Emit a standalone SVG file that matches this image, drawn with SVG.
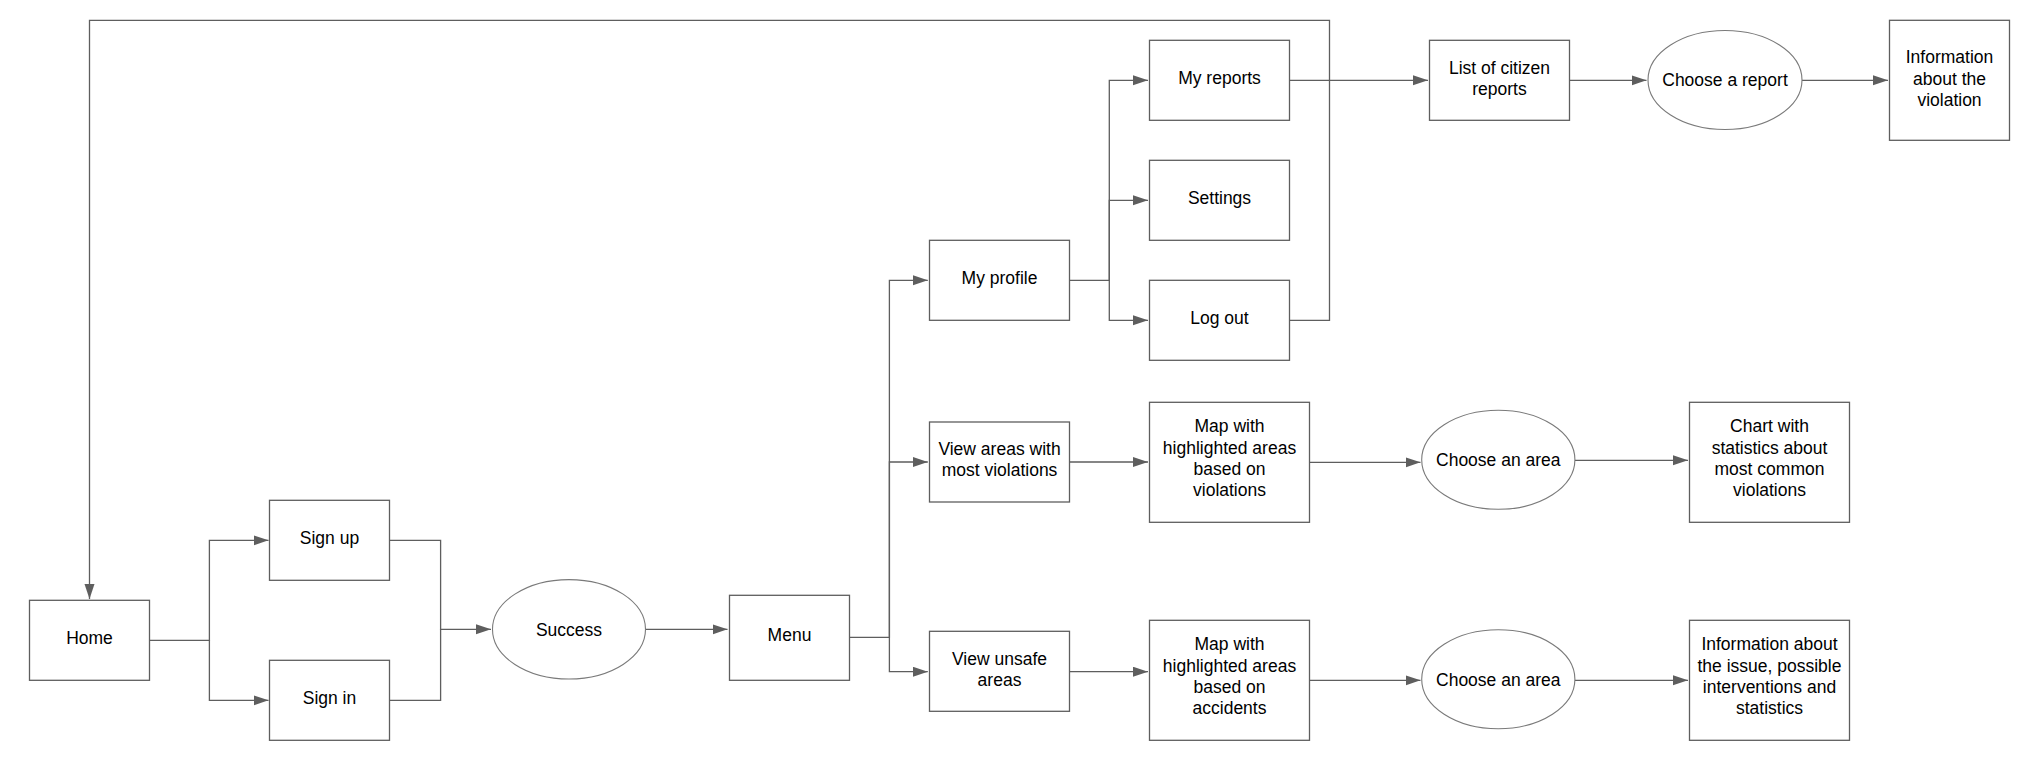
<svg xmlns="http://www.w3.org/2000/svg" width="2039" height="769" viewBox="0 0 2039 769">
  <style>
    .box { fill: #ffffff; stroke: #5e5e5e; stroke-width: 1.3; }
    .oval { fill: #ffffff; stroke: #7a7a7a; stroke-width: 1.1; }
    .lbl { font-family: "Liberation Sans", Arial, sans-serif; font-size: 17.5px; fill: #000000; text-anchor: middle; }
    .wire { fill: none; stroke: #5e5e5e; stroke-width: 1.3; }
    .arr { marker-end: url(#head); }
  </style>
  <defs>
    <marker id="head" markerUnits="userSpaceOnUse" markerWidth="16" markerHeight="11" refX="15" refY="5" orient="auto">
      <path d="M0,0 L15,5 L0,10 Z" fill="#5e5e5e"/>
    </marker>
  </defs>
  <rect width="2039" height="769" fill="#ffffff"/>

  <!-- connectors -->
  <g id="connectors">
    <path class="wire arr" d="M149.5,640.3 H209.4 V540.3 H268.5"/>
    <path class="wire arr" d="M209.4,640.3 V700.3 H268.5"/>
    <path class="wire arr" d="M389.5,540.3 H440.6 V629.3 H491"/>
    <path class="wire" d="M389.5,700.3 H440.6 V629.3"/>
    <path class="wire arr" d="M645.5,629.3 H727.5"/>
    <path class="wire arr" d="M849.5,637.3 H889.4 V280.3 H927.8"/>
    <path class="wire arr" d="M889.4,637.3 V462 H927.8"/>
    <path class="wire arr" d="M889.4,637.3 V671.7 H927.8"/>
    <path class="wire arr" d="M1069.5,462 H1148"/>
    <path class="wire arr" d="M1309.5,462.3 H1420.5"/>
    <path class="wire arr" d="M1575,460.3 H1688"/>
    <path class="wire arr" d="M1069.5,671.7 H1148"/>
    <path class="wire arr" d="M1309.5,680.3 H1420.5"/>
    <path class="wire arr" d="M1575,680.3 H1688"/>
    <path class="wire arr" d="M1069.5,280.3 H1109.3 V80.3 H1148"/>
    <path class="wire arr" d="M1109.3,280.3 V200.3 H1148"/>
    <path class="wire arr" d="M1109.3,280.3 V320.3 H1148"/>
    <path class="wire arr" d="M1289.5,320.3 H1329.5 V20.3 H89.5 V599"/>
    <path class="wire arr" d="M1289.5,80.3 H1428"/>
    <path class="wire arr" d="M1569.5,80.3 H1646.5"/>
    <path class="wire arr" d="M1802,80.3 H1888"/>
  </g>

  <g id="home">
    <rect class="box" x="29.5" y="600.3" width="120" height="80"/>
    <text class="lbl" x="89.5" y="643.6">Home</text>
  </g>
  <g id="sign-up">
    <rect class="box" x="269.5" y="500.3" width="120" height="80"/>
    <text class="lbl" x="329.5" y="543.6">Sign up</text>
  </g>
  <g id="sign-in">
    <rect class="box" x="269.5" y="660.3" width="120" height="80"/>
    <text class="lbl" x="329.5" y="703.6">Sign in</text>
  </g>
  <g id="success">
    <ellipse class="oval" cx="569" cy="629.3" rx="76.5" ry="49.7"/>
    <text class="lbl" x="569" y="635.6">Success</text>
  </g>
  <g id="menu">
    <rect class="box" x="729.5" y="595.3" width="120" height="85"/>
    <text class="lbl" x="789.5" y="640.6">Menu</text>
  </g>
  <g id="my-profile">
    <rect class="box" x="929.5" y="240.3" width="140" height="80"/>
    <text class="lbl" x="999.5" y="283.6">My profile</text>
  </g>
  <g id="my-reports">
    <rect class="box" x="1149.5" y="40.3" width="140" height="80"/>
    <text class="lbl" x="1219.5" y="83.6">My reports</text>
  </g>
  <g id="settings">
    <rect class="box" x="1149.5" y="160.3" width="140" height="80"/>
    <text class="lbl" x="1219.5" y="203.6">Settings</text>
  </g>
  <g id="log-out">
    <rect class="box" x="1149.5" y="280.3" width="140" height="80"/>
    <text class="lbl" x="1219.5" y="323.6">Log out</text>
  </g>
  <g id="citizen-reports">
    <rect class="box" x="1429.5" y="40.3" width="140" height="80"/>
    <text class="lbl" x="1499.5"><tspan x="1499.5" y="73.9">List of citizen</tspan><tspan x="1499.5" y="95.2">reports</tspan></text>
  </g>
  <g id="choose-report">
    <ellipse class="oval" cx="1725" cy="80" rx="77" ry="49.5"/>
    <text class="lbl" x="1725" y="86.3">Choose a report</text>
  </g>
  <g id="violation-info">
    <rect class="box" x="1889.5" y="20.3" width="120" height="120"/>
    <text class="lbl"><tspan x="1949.5" y="63.3">Information</tspan><tspan x="1949.5" y="84.6">about the</tspan><tspan x="1949.5" y="105.9">violation</tspan></text>
  </g>
  <g id="view-violations">
    <rect class="box" x="929.5" y="422" width="140" height="80"/>
    <text class="lbl"><tspan x="999.5" y="454.6">View areas with</tspan><tspan x="999.5" y="475.9">most violations</tspan></text>
  </g>
  <g id="map-violations">
    <rect class="box" x="1149.5" y="402.3" width="160" height="120"/>
    <text class="lbl"><tspan x="1229.5" y="432.2">Map with</tspan><tspan x="1229.5" y="453.5">highlighted areas</tspan><tspan x="1229.5" y="474.8">based on</tspan><tspan x="1229.5" y="496.1">violations</tspan></text>
  </g>
  <g id="choose-area-1">
    <ellipse class="oval" cx="1498.3" cy="459.8" rx="76.6" ry="49.5"/>
    <text class="lbl" x="1498.3" y="466.1">Choose an area</text>
  </g>
  <g id="violations-chart">
    <rect class="box" x="1689.5" y="402.3" width="160" height="120"/>
    <text class="lbl"><tspan x="1769.5" y="432.2">Chart with</tspan><tspan x="1769.5" y="453.5">statistics about</tspan><tspan x="1769.5" y="474.8">most common</tspan><tspan x="1769.5" y="496.1">violations</tspan></text>
  </g>
  <g id="view-unsafe">
    <rect class="box" x="929.5" y="631.3" width="140" height="80"/>
    <text class="lbl"><tspan x="999.5" y="664.9">View unsafe</tspan><tspan x="999.5" y="686.2">areas</tspan></text>
  </g>
  <g id="map-accidents">
    <rect class="box" x="1149.5" y="620.3" width="160" height="120"/>
    <text class="lbl"><tspan x="1229.5" y="650.2">Map with</tspan><tspan x="1229.5" y="671.5">highlighted areas</tspan><tspan x="1229.5" y="692.8">based on</tspan><tspan x="1229.5" y="714.1">accidents</tspan></text>
  </g>
  <g id="choose-area-2">
    <ellipse class="oval" cx="1498.3" cy="679.2" rx="76.6" ry="49.5"/>
    <text class="lbl" x="1498.3" y="685.5">Choose an area</text>
  </g>
  <g id="issue-info">
    <rect class="box" x="1689.5" y="620.3" width="160" height="120"/>
    <text class="lbl"><tspan x="1769.5" y="650.2">Information about</tspan><tspan x="1769.5" y="671.5">the issue, possible</tspan><tspan x="1769.5" y="692.8">interventions and</tspan><tspan x="1769.5" y="714.1">statistics</tspan></text>
  </g>
</svg>
